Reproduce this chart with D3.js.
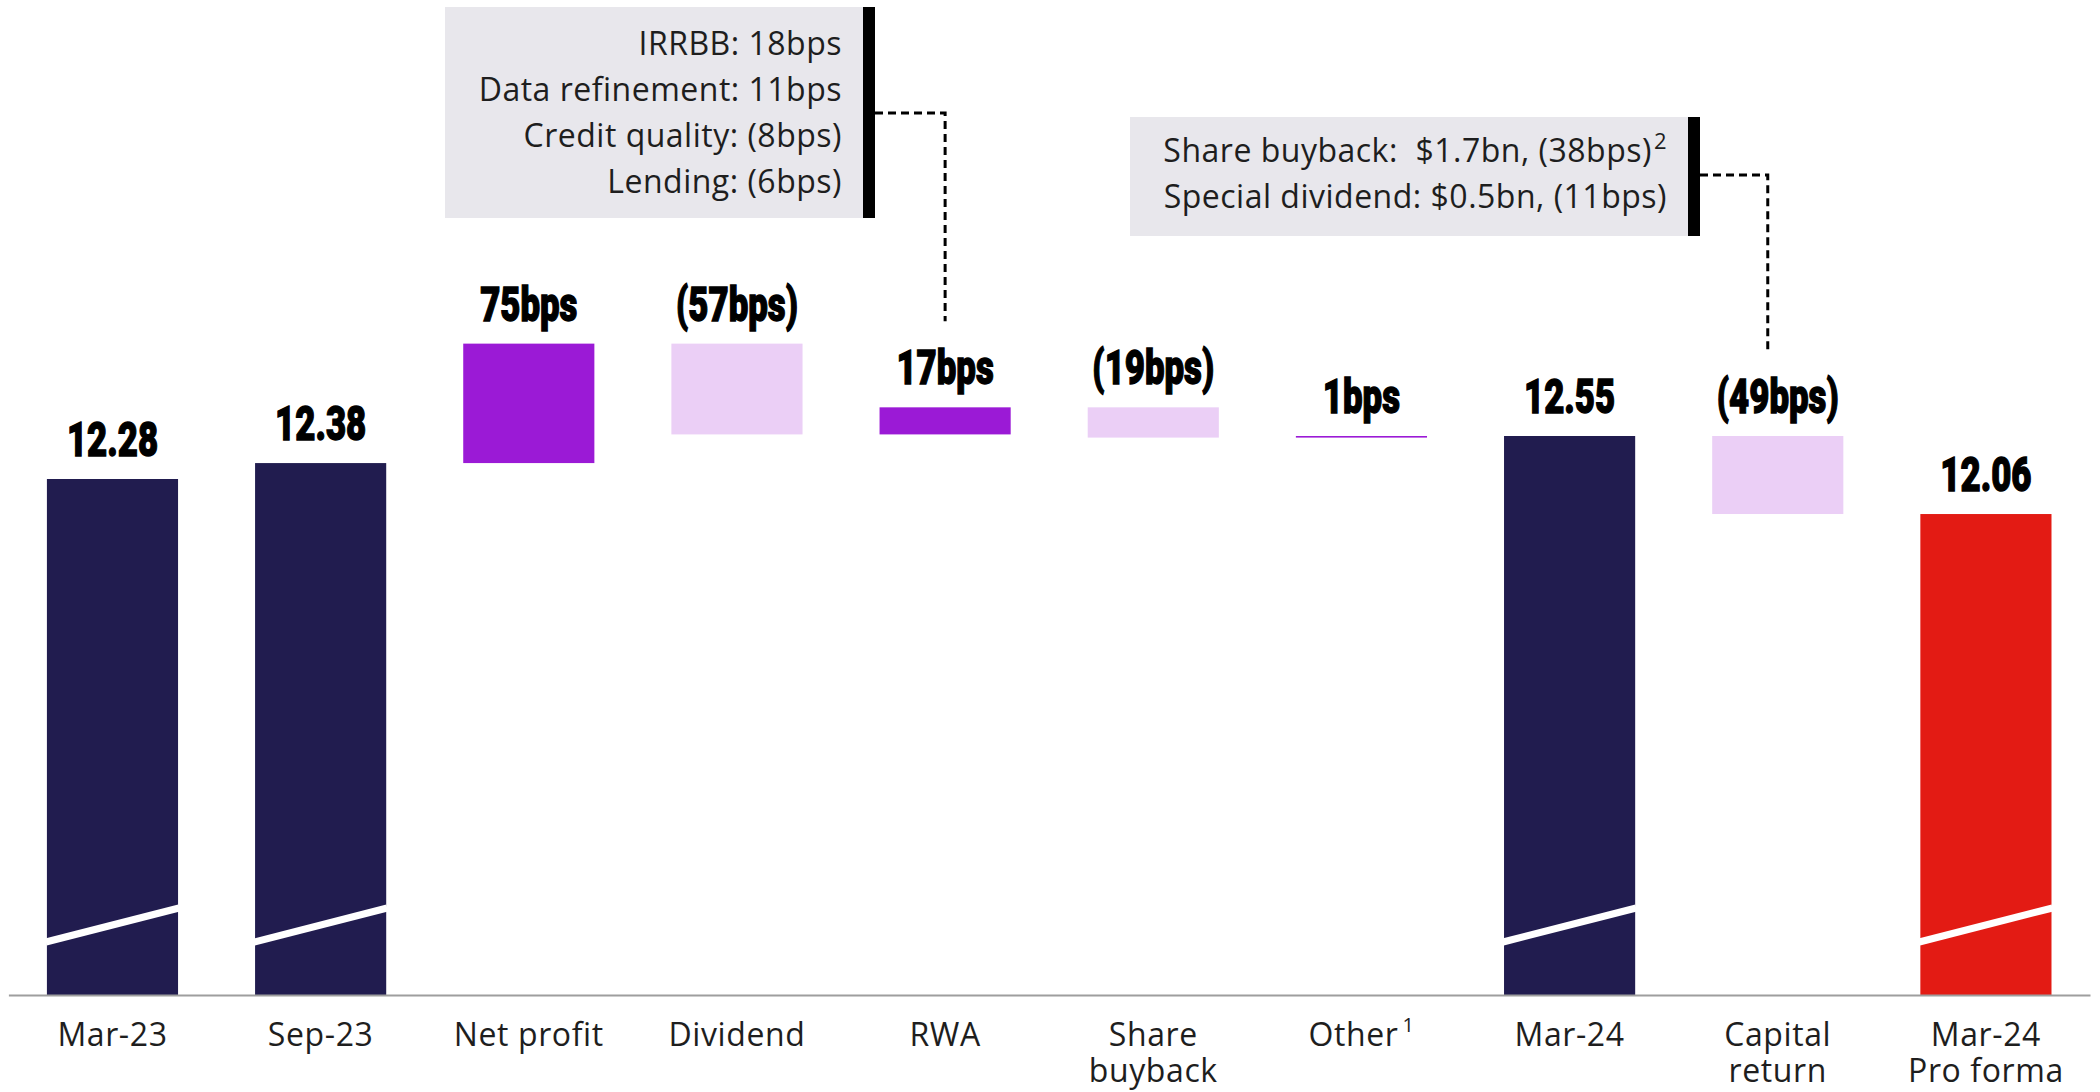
<!DOCTYPE html>
<html>
<head>
<meta charset="utf-8">
<script src="https://cdn.jsdelivr.net/npm/d3@7"></script>
<style>
  body { margin: 0; background: #fff; }
  svg { display: block; }
  .cat { font-family: "Open Sans", sans-serif; font-size: 32px; letter-spacing: 0.6px; fill: #1e1e1e; }
  .val { font-family: Roboto, sans-serif; font-weight: 900; font-size: 49px; fill: #000; stroke: #000; stroke-width: 1.4px; }
  .note { font-family: "Open Sans", sans-serif; font-size: 32px; letter-spacing: 0.5px; fill: #1e1e1e; white-space: pre; }
</style>
</head>
<body>
<svg id="chart" width="2100" height="1092"></svg>
<script>
var categories = ["Mar-23", "Sep-23", "Net profit", "Dividend", "RWA", "Share buyback", "Other", "Mar-24", "Capital return", "Mar-24 Pro forma"];
var axisLines = [["Mar-23"], ["Sep-23"], ["Net profit"], ["Dividend"], ["RWA"], ["Share", "buyback"], ["Other"], ["Mar-24"], ["Capital", "return"], ["Mar-24", "Pro forma"]];
var axisFootnotes = ["", "", "", "", "", "", "1", "", "", ""];
var kinds = ["total", "total", "delta", "delta", "delta", "delta", "delta", "total", "delta", "total"];
var values = [12.28, 12.38, 0.75, -0.57, 0.17, -0.19, 0.01, 12.55, -0.49, 12.06];
var valueLabels = ["12.28", "12.38", "75bps", "(57bps)", "17bps", "(19bps)", "1bps", "12.55", "(49bps)", "12.06"];
var rwaNotes = ["IRRBB: 18bps", "Data refinement: 11bps", "Credit quality: (8bps)", "Lending: (6bps)"];
var capitalNotes = ["Share buyback:  $1.7bn, (38bps)", "Special dividend: $0.5bn, (11bps)"];
var capitalFootnotes = ["2", ""];

var navy = "#211c4f", red = "#e31b14", up = "#9b1ad6", down = "#ebcff6";

var svg = d3.select("#chart");

// broken axis: bars start at the floor, not at zero
var x = d3.scaleBand()
  .domain(categories)
  .range([8.4, 2090])
  .paddingInner(0.37)
  .paddingOuter(0.185);

var y = d3.scaleLinear()
  .domain([9.04, 12.55])
  .range([995, 436]);

var floor = y.domain()[0];

// running totals for the waterfall
var run = 0;
var bars = categories.map(function (c, i) {
  var v = values[i], lo, hi, fill;
  if (kinds[i] == "total") {
    lo = floor; hi = v; run = v;
    fill = (i == categories.length - 1) ? red : navy;
  } else {
    lo = Math.min(run, run + v);
    hi = Math.max(run, run + v);
    run = run + v;
    fill = v >= 0 ? up : down;
  }
  return { cat: c, lo: lo, hi: hi, fill: fill, kind: kinds[i], label: valueLabels[i] };
});

svg.selectAll("rect.bar")
  .data(bars).enter()
  .append("rect")
  .attr("class", "bar")
  .attr("x", function (d) { return x(d.cat); })
  .attr("y", function (d) { return y(d.hi); })
  .attr("width", x.bandwidth())
  .attr("height", function (d) { return Math.max(1.6, y(d.lo) - y(d.hi)); })
  .attr("fill", function (d) { return d.fill; });

// axis-break slash on the totals
svg.selectAll("line.brk")
  .data(bars.filter(function (d) { return d.kind == "total"; })).enter()
  .append("line")
  .attr("class", "brk")
  .attr("x1", function (d) { return x(d.cat) - 1; })
  .attr("y1", y.range()[0] - 53)
  .attr("x2", function (d) { return x(d.cat) + x.bandwidth() + 1; })
  .attr("y2", y.range()[0] - 87)
  .attr("stroke", "#fff")
  .attr("stroke-width", 7);

// value labels (condensed heavy)
svg.selectAll("text.val")
  .data(bars).enter()
  .append("text")
  .attr("class", "val")
  .attr("text-anchor", "middle")
  .attr("transform", function (d) {
    return "translate(" + (x(d.cat) + x.bandwidth() / 2) + "," + (y(d.hi) - 23) + ") scale(0.71,1)";
  })
  .text(function (d) { return d.label; });

// x axis
var xAxis = d3.axisBottom(x).tickSize(0).tickSizeOuter(0);
var ax = svg.append("g")
  .attr("transform", "translate(0," + y.range()[0] + ")")
  .call(xAxis);
ax.select(".domain").attr("stroke", "#9e9e9e").attr("stroke-width", 2);
ax.selectAll(".tick text")
  .attr("class", "cat")
  .attr("y", 51)
  .attr("dy", 0)
  .each(function (d, i) {
    var t = d3.select(this);
    t.text(null);
    axisLines[i].forEach(function (line, j) {
      t.append("tspan").attr("x", 0).attr("dy", j == 0 ? 0 : 36).text(line);
    });
    if (axisFootnotes[i]) {
      t.append("tspan").attr("dy", -14).attr("dx", 4).style("font-size", "20px").text(axisFootnotes[i]);
    }
  });
ax.attr("font-family", null).attr("font-size", null);

// annotation boxes
function noteBox(left, top, right, lines, sups, baseline0) {
  svg.append("rect").attr("x", left).attr("y", top)
    .attr("width", right - left).attr("height", 46 * lines.length + 27)
    .attr("fill", "#e8e7ec");
  svg.append("rect").attr("x", right).attr("y", top)
    .attr("width", 12).attr("height", 46 * lines.length + 27)
    .attr("fill", "#000");
  lines.forEach(function (s, i) {
    var t = svg.append("text").attr("class", "note")
      .attr("x", right - 21).attr("y", baseline0 + i * 46)
      .attr("text-anchor", "end");
    t.append("tspan").text(s);
    if (sups && sups[i]) {
      t.append("tspan").attr("dy", -13).attr("dx", 2).style("font-size", "22px").text(sups[i]);
    }
  });
}

noteBox(445, 7, 863, rwaNotes, null, 55);
noteBox(1130, 117, 1688, capitalNotes, capitalFootnotes, 162);

// dashed connectors from the boxes down to their bars
function connector(x0, y0, cat, dxOff) {
  var b = bars[categories.indexOf(cat)];
  var cx = x(cat) + x.bandwidth() / 2 + dxOff;
  var yEnd = y(b.hi) - 23 - 34 - 29;
  svg.append("path")
    .attr("d", "M" + x0 + "," + y0 + "H" + cx + "V" + yEnd)
    .attr("fill", "none")
    .attr("stroke", "#000")
    .attr("stroke-width", 3)
    .attr("stroke-dasharray", "8,5");
}

connector(875, 113, "RWA", 0);
connector(1700, 175, "Capital return", -10);
</script>
</body>
</html>
